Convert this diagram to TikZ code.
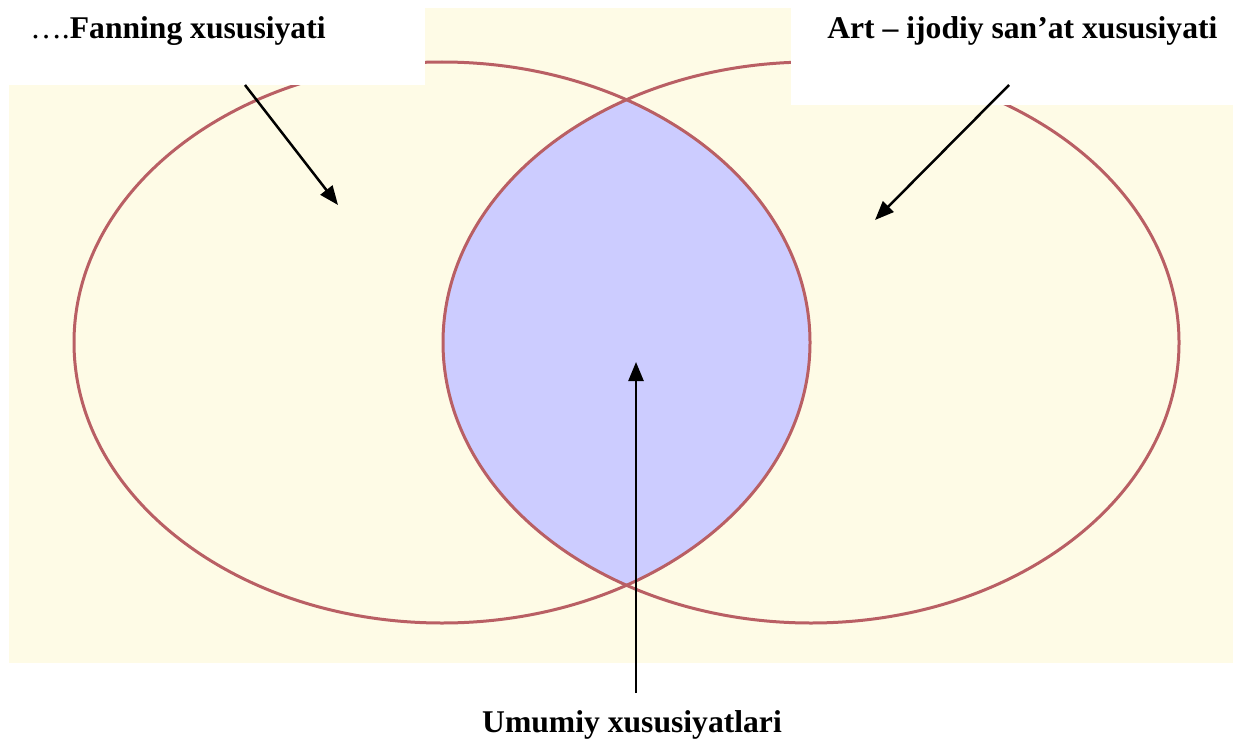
\documentclass[tikz,border=0pt]{standalone}
\usepackage{fontspec}
\setmainfont{Liberation Serif}
\usetikzlibrary{arrows.meta,positioning}
\definecolor{vennCream}{RGB}{254,251,230}
\definecolor{vennLens}{RGB}{204,204,255}
\definecolor{vennEdge}{RGB}{185,95,100}
\tikzset{
  labeltext/.style={anchor=base west, inner sep=0pt,
    font=\fontsize{18}{22}\selectfont\bfseries},
  pointer/.style={-{Triangle[length=0.38cm,width=0.3cm]}, line width=0.05cm, black}
}
\begin{document}
\begin{tikzpicture}[x=0.02cm, y=-0.02cm,
        ring/.style={draw=vennEdge, line width=0.06cm}]
        \useasboundingbox (0,0) rectangle (1233,740);
        % background and the common part
        \fill[vennCream] (9,8) rectangle (1233,663);
        \begin{scope}
          \clip (442,342.5) ellipse [x radius=368, y radius=280.5];
          \fill[vennLens] (811,342.5) ellipse [x radius=368, y radius=280.5];
        \end{scope}
        \draw[ring] (442,342.5) ellipse [x radius=368, y radius=280.5];
        \draw[ring] (811,342.5) ellipse [x radius=368, y radius=280.5];
        % white boxes behind the labels
        \fill[white] (0,0) rectangle (425,85);
        \fill[white] (791,0) rectangle (1233,105);
        \node[labeltext] (fan) at (30,39) {{\mdseries ….}Fanning xususiyati};
        \node[labeltext] (art) at (827,39) {Art – ijodiy san’at xususiyati};
        \node[labeltext, anchor=base] (umumiy) at (632,732) {Umumiy xususiyatlari};
        \coordinate (fanTail) at (245,85);
        \coordinate (fanTip)  at (338,205);
        \coordinate (artTail) at (1009,85);
        \coordinate (artTip)  at (875,220);
        \coordinate (umTail)  at (636,693);
        \coordinate (umTip)   at (636,362);
        \draw[pointer] (fanTail) -- (fanTip);
        \draw[pointer] (artTail) -- (artTip);
        \draw[pointer] (umTail) -- (umTip);
      \end{tikzpicture}
\end{document}
